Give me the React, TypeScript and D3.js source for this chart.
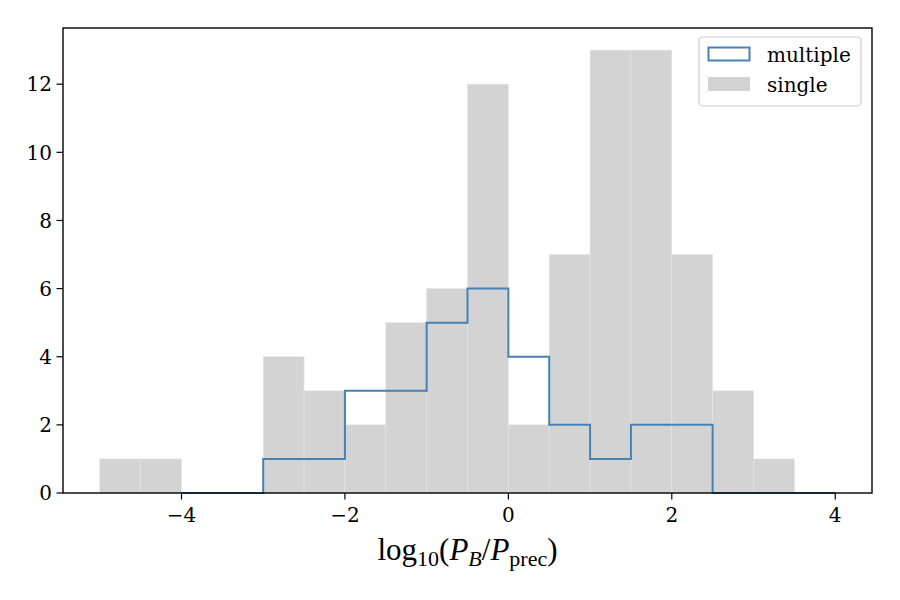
import React from "react";
import * as d3 from "d3";

// bin edges and counts
const singleEdges = d3.range(-5, 4.001, 0.5);
const singleCounts = [1, 1, 0, 0, 4, 3, 2, 5, 6, 12, 2, 7, 13, 13, 7, 3, 1, 0];

const multipleEdges = d3.range(-4, 4.001, 0.5);
const multipleCounts = [0, 0, 1, 1, 3, 3, 5, 6, 4, 2, 1, 2, 2, 0, 0, 0];

const xTicks = [-4, -2, 0, 2, 4];
const yTicks = [0, 2, 4, 6, 8, 10, 12];

const W = 900;
const H = 600;
const margin = { top: 28, right: 28, bottom: 107, left: 63 };

const BLUE = "#4682b4";
const GRAY = "#d3d3d3";
const FONT = "DejaVu Serif";

export default function App() {
  const x = d3
    .scaleLinear()
    .domain([-5.45, 4.45])
    .range([margin.left, W - margin.right]);
  const y = d3
    .scaleLinear()
    .domain([0, 13.65])
    .range([H - margin.bottom, margin.top]);

  // step outline like histtype="step"
  const pts: [number, number][] = [[multipleEdges[0], 0]];
  multipleCounts.forEach((c, i) => {
    pts.push([multipleEdges[i], c]);
    pts.push([multipleEdges[i + 1], c]);
  });
  pts.push([multipleEdges[multipleEdges.length - 1], 0]);
  const stepLine = d3
    .line<[number, number]>()
    .x((d) => x(d[0]))
    .y((d) => y(d[1]))(pts);

  const x0 = margin.left;
  const x1 = W - margin.right;
  const y0 = H - margin.bottom;
  const y1 = margin.top;

  return (
    <svg
      width={W}
      height={H}
      style={{ position: "absolute", left: 0, top: 0, background: "#fff" }}
    >
      {/* single bars */}
      {singleCounts.map((c, i) =>
        c > 0 ? (
          <rect
            key={i}
            x={x(singleEdges[i])}
            y={y(c)}
            width={x(singleEdges[i + 1]) - x(singleEdges[i])}
            height={y(0) - y(c)}
            fill={GRAY}
            stroke="#e4e4e4"
            strokeWidth={0.6}
          />
        ) : null
      )}

      {/* multiple step */}
      <path d={stepLine || ""} fill="none" stroke={BLUE} strokeWidth={2} strokeLinejoin="miter" />

      {/* frame */}
      <rect
        x={x0}
        y={y1}
        width={x1 - x0}
        height={y0 - y1}
        fill="none"
        stroke="#000"
        strokeWidth={1.4}
      />

      {/* x ticks */}
      {xTicks.map((t) => (
        <g key={t} transform={`translate(${x(t)},${y0})`}>
          <line y1={0} y2={6.5} stroke="#000" strokeWidth={1.2} />
          <text
            y={28.5}
            textAnchor="middle"
            fontFamily={FONT}
            fontSize={20}
            fill="#000"
          >
            {t < 0 ? `\u2212${Math.abs(t)}` : t}
          </text>
        </g>
      ))}

      {/* y ticks */}
      {yTicks.map((t) => (
        <g key={t} transform={`translate(${x0},${y(t)})`}>
          <line x1={0} x2={-6.5} stroke="#000" strokeWidth={1.2} />
          <text
            x={-11}
            dy="0.36em"
            textAnchor="end"
            fontFamily={FONT}
            fontSize={20}
            fill="#000"
          >
            {t}
          </text>
        </g>
      ))}

      {/* x label */}
      <text
        x={(x0 + x1) / 2}
        y={560}
        textAnchor="middle"
        fontFamily="Liberation Serif"
        fontSize={31}
        fill="#000"
      >
        <tspan>log</tspan>
        <tspan fontSize={22} dy={6}>10</tspan>
        <tspan dy={-6}>(</tspan>
        <tspan fontStyle="italic">P</tspan>
        <tspan fontStyle="italic" fontSize={22} dy={6}>B</tspan>
        <tspan dy={-6}>/</tspan>
        <tspan fontStyle="italic">P</tspan>
        <tspan fontSize={22} dy={6}>prec</tspan>
        <tspan dy={-6}>)</tspan>
      </text>

      {/* legend */}
      <g>
        <rect
          x={699}
          y={37}
          width={162}
          height={69}
          rx={4}
          fill="#fff"
          fillOpacity={0.8}
          stroke="#cccccc"
          strokeWidth={1.2}
        />
        <rect x={708.5} y={47.5} width={41} height={13} fill="none" stroke={BLUE} strokeWidth={2} />
        <rect x={708} y={77} width={42} height={14} fill={GRAY} />
        <text x={767} y={62} fontFamily={FONT} fontSize={20} fill="#000">
          multiple
        </text>
        <text x={767} y={92} fontFamily={FONT} fontSize={20} fill="#000">
          single
        </text>
      </g>
    </svg>
  );
}
